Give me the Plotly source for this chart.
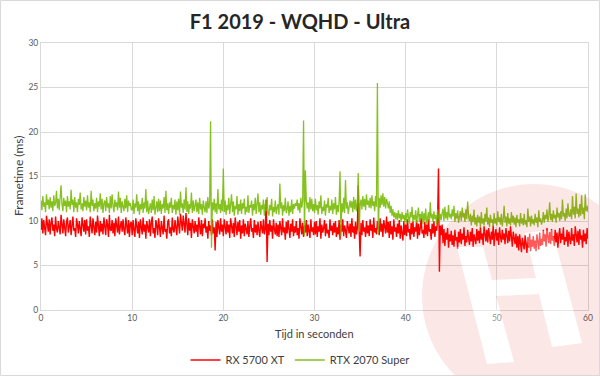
import math
import plotly.graph_objects as go

# ---------------- data ----------------
title_text = "F1 2019 - WQHD - Ultra"
x_title = "Tijd in seconden"
y_title = "Frametime (ms)"
series_names = ["RX 5700 XT", "RTX 2070 Super"]
x_ticks = [0, 10, 20, 30, 40, 50, 60]
y_ticks = [0, 5, 10, 15, 20, 25, 30]
sample_step_s = 0.1   # one row below = one second

rx5700xt_ms = [
    9.0, 10.3, 8.6, 10.1, 9.2, 8.4, 10.6, 9.5, 8.8, 10.2,
    8.5, 9.8, 10.4, 8.9, 9.6, 8.3, 10.5, 9.1, 8.7, 10.0,
    9.3, 8.5, 10.7, 9.0, 8.6, 10.2, 9.4, 8.3, 9.9, 10.4,
    8.7, 9.5, 10.1, 8.4, 9.7, 10.5, 8.9, 9.2, 8.2, 10.3,
    9.6, 8.6, 10.0, 9.1, 8.3, 10.4, 9.3, 8.8, 10.1, 8.5,
    10.2, 8.9, 9.4, 8.2, 10.5, 9.0, 8.6, 10.3, 9.5, 8.4,
    9.9, 8.7, 10.6, 9.2, 8.3, 10.0, 8.8, 9.7, 8.5, 10.4,
    9.1, 8.4, 10.2, 9.6, 8.2, 10.7, 9.0, 8.9, 10.1, 8.6,
    9.8, 8.3, 10.3, 9.3, 8.7, 10.5, 8.5, 9.4, 10.0, 8.8,
    10.2, 9.0, 8.4, 10.4, 9.5, 8.6, 10.1, 8.2, 9.7, 9.9,
    8.4, 10.1, 9.0, 8.2, 10.3, 9.4, 8.6, 9.9, 8.1, 10.2,
    9.1, 8.5, 10.4, 8.8, 9.6, 8.0, 10.0, 9.3, 8.7, 10.2,
    8.3, 9.8, 10.5, 8.6, 9.2, 8.1, 10.1, 9.5, 8.4, 10.3,
    9.0, 8.2, 10.0, 9.4, 8.5, 10.6, 8.8, 9.1, 8.0, 9.9,
    10.2, 8.6, 9.3, 8.3, 10.4, 9.0, 8.7, 10.1, 9.4, 8.4,
    10.5, 9.1, 8.6, 10.8, 9.4, 8.9, 10.6, 9.7, 8.7, 10.9,
    9.3, 8.4, 10.3, 8.9, 9.8, 8.1, 10.2, 9.0, 8.6, 10.0,
    8.8, 9.6, 8.2, 10.4, 9.1, 8.5, 10.1, 8.3, 9.7, 9.2,
    10.3, 8.7, 9.4, 8.0, 10.0, 8.9, 9.5, 8.4, 10.2, 8.6,
    9.3, 6.7, 9.9, 8.2, 10.1, 9.0, 8.5, 10.3, 8.8, 9.6,
    8.3, 10.2, 9.0, 8.5, 10.0, 8.7, 9.6, 8.1, 10.3, 9.2,
    8.6, 9.8, 8.2, 10.4, 9.1, 8.4, 9.9, 8.8, 10.1, 8.0,
    9.5, 8.6, 10.2, 8.3, 9.7, 9.0, 8.5, 10.0, 8.2, 9.4,
    10.3, 8.8, 9.2, 8.1, 10.1, 8.7, 9.6, 8.4, 9.9, 8.9,
    8.2, 10.0, 9.3, 8.6, 10.2, 8.5, 9.1, 12.4, 5.4, 9.7,
    8.4, 10.1, 8.8, 9.5, 8.0, 10.2, 9.1, 8.5, 9.8, 8.3,
    9.6, 8.2, 10.0, 8.9, 8.4, 10.3, 8.7, 9.3, 7.9, 9.9,
    8.6, 10.1, 9.0, 8.1, 9.7, 8.8, 10.2, 8.3, 9.4, 8.7,
    10.0, 8.4, 9.2, 8.0, 10.3, 8.9, 8.5, 9.8, 8.2, 9.5,
    8.7, 10.1, 8.3, 9.6, 9.0, 8.1, 10.2, 8.8, 9.3, 8.4,
    9.9, 8.5, 10.0, 8.2, 9.4, 8.8, 10.3, 8.0, 9.6, 8.7,
    9.2, 10.1, 8.3, 9.7, 8.6, 9.0, 8.1, 10.2, 8.9, 9.5,
    8.4, 9.8, 8.7, 10.0, 8.2, 9.3, 8.5, 10.1, 7.9, 9.6,
    8.8, 10.2, 8.3, 9.5, 8.9, 8.1, 10.0, 9.1, 8.6, 9.7,
    8.2, 10.3, 8.7, 9.4, 8.0, 9.9, 8.5, 9.2, 14.0, 9.0,
    6.0, 9.8, 8.4, 10.1, 8.8, 9.3, 8.2, 10.0, 8.6, 9.5,
    8.3, 10.2, 8.9, 9.6, 8.1, 10.4, 8.7, 9.2, 8.5, 10.0,
    9.4, 8.4, 10.3, 8.8, 9.7, 8.2, 10.1, 9.0, 8.6, 10.5,
    8.7, 9.9, 8.1, 10.0, 8.5, 9.4, 7.9, 10.2, 8.8, 9.3,
    8.2, 9.7, 8.6, 10.1, 8.0, 9.5, 8.9, 7.8, 10.0, 8.4,
    9.6, 8.3, 10.2, 8.7, 9.1, 7.9, 9.8, 8.5, 10.0, 8.2,
    9.3, 8.8, 10.1, 8.0, 9.7, 8.4, 9.2, 10.3, 8.6, 9.0,
    8.1, 9.9, 8.5, 9.6, 8.3, 10.2, 8.8, 9.1, 7.9, 9.7,
    8.6, 10.0, 8.2, 9.4, 8.9, 10.1, 15.9, 4.3, 9.5, 8.4,
    9.6, 7.5, 9.1, 7.2, 8.7, 7.9, 9.2, 7.0, 8.5, 7.7,
    8.9, 7.3, 8.4, 7.1, 9.0, 7.8, 8.2, 6.9, 8.8, 7.6,
    9.1, 7.4, 8.6, 7.9, 9.3, 7.2, 8.3, 7.6, 9.0, 8.0,
    7.3, 8.8, 7.7, 9.2, 7.1, 8.5, 8.0, 7.4, 9.1, 7.8,
    8.9, 7.5, 9.3, 7.9, 8.6, 7.3, 9.4, 8.1, 7.7, 9.0,
    7.6, 9.2, 8.3, 7.4, 8.8, 7.9, 9.5, 7.2, 8.5, 9.1,
    7.8, 8.7, 7.3, 9.3, 8.2, 7.6, 9.0, 7.9, 8.6, 7.4,
    9.2, 8.0, 7.5, 8.9, 7.7, 9.4, 8.3, 7.1, 8.8, 8.1,
    7.4, 8.6, 7.0, 8.3, 6.7, 8.5, 7.2, 6.5, 8.1, 7.6,
    6.8, 8.4, 7.3, 6.4, 8.2, 7.0, 8.6, 6.6, 7.9, 7.1,
    8.3, 6.9, 7.8, 6.6, 8.5, 7.4, 6.8, 8.7, 7.2, 8.0,
    7.3, 9.0, 7.7, 8.5, 7.1, 9.2, 8.0, 7.5, 8.8, 7.4,
    9.1, 7.8, 8.3, 7.2, 9.0, 7.6, 8.7, 7.0, 8.4, 9.2,
    7.5, 8.6, 7.9, 9.3, 7.3, 8.2, 7.7, 9.0, 7.1, 8.8,
    8.0, 7.4, 9.2, 7.8, 8.5, 7.2, 9.4, 8.1, 7.6, 8.9,
    7.3, 9.1, 7.9, 8.4, 7.0, 9.0, 7.7, 8.6, 7.4, 9.2,
    8.0,
]

rtx2070s_ms = [
    12.3, 11.2, 12.8, 11.6, 12.1, 11.0, 13.0, 11.8, 12.4, 11.3,
    12.7, 11.5, 12.2, 11.1, 12.9, 11.7, 12.0, 13.4, 11.4, 12.5,
    11.2, 12.6, 14.0, 11.9, 11.1, 12.6, 11.7, 12.3, 11.0, 12.8,
    11.6, 12.2, 11.3, 13.5, 11.8, 12.4, 11.0, 12.7, 11.5, 12.1,
    11.0, 12.5, 11.8, 13.2, 11.3, 12.0, 11.1, 12.7, 11.6, 12.3,
    11.2, 12.9, 11.5, 12.1, 11.0, 13.4, 11.7, 12.4, 11.1, 12.0,
    11.4, 12.6, 11.0, 12.2, 11.6, 13.1, 11.3, 12.5, 10.9, 12.0,
    12.3, 11.1, 12.7, 11.5, 12.0, 10.9, 12.8, 11.4, 13.0, 11.7,
    11.0, 12.4, 11.6, 12.1, 11.2, 13.3, 11.5, 12.6, 10.9, 12.2,
    11.8, 11.1, 12.5, 11.4, 12.9, 11.0, 12.3, 11.7, 12.0, 11.3,
    11.2, 12.4, 10.8, 12.0, 11.5, 13.0, 11.1, 12.2, 10.7, 11.9,
    11.3, 12.6, 10.9, 12.1, 11.4, 13.6, 11.0, 12.3, 10.8, 11.8,
    12.0, 10.9, 12.4, 11.2, 12.8, 10.7, 11.7, 12.2, 11.0, 12.5,
    11.1, 12.3, 10.8, 11.9, 11.4, 12.7, 10.9, 13.4, 11.2, 12.0,
    10.8, 12.1, 11.5, 12.6, 10.9, 11.8, 11.3, 12.4, 10.7, 12.2,
    11.2, 12.5, 10.7, 13.3, 11.5, 12.0, 10.9, 12.4, 11.3, 13.8,
    11.0, 12.2, 10.8, 11.9, 11.4, 13.2, 10.9, 12.3, 11.1, 11.7,
    12.4, 11.0, 12.1, 10.8, 12.6, 11.3, 11.9, 10.7, 12.3, 11.5,
    11.0, 12.2, 10.9, 12.7, 11.4, 11.8, 21.2, 7.0, 12.1, 11.2,
    12.5, 11.0, 12.0, 10.8, 13.6, 11.3, 11.9, 10.9, 12.4, 11.1,
    15.9, 11.0, 12.3, 10.7, 11.8, 11.2, 12.6, 10.8, 11.6, 13.0,
    11.0, 12.2, 10.6, 11.7, 11.3, 12.8, 10.7, 11.9, 11.1, 12.4,
    10.8, 12.0, 11.4, 12.5, 10.7, 11.6, 11.0, 12.9, 10.9, 11.8,
    11.5, 12.3, 10.6, 11.9, 11.2, 12.6, 10.8, 11.7, 13.1, 11.0,
    12.1, 10.7, 11.8, 11.3, 12.4, 10.6, 11.9, 11.1, 12.7, 10.9,
    10.6, 11.8, 11.2, 12.5, 10.5, 11.6, 11.0, 12.3, 10.8, 11.5,
    11.9, 10.7, 14.2, 11.4, 12.1, 10.6, 11.8, 11.1, 12.6, 10.9,
    11.3, 12.2, 10.6, 11.7, 11.0, 12.4, 10.8, 11.9, 11.4, 12.0,
    11.7, 12.4, 11.2, 12.0, 10.9, 12.6, 11.5, 12.2, 21.3, 8.4,
    15.7, 12.3, 11.4, 12.1, 11.0, 12.7, 11.3, 12.5, 11.1, 11.9,
    10.9, 12.5, 11.2, 11.8, 10.7, 12.2, 11.4, 12.9, 10.8, 11.6,
    11.1, 12.3, 10.6, 11.9, 11.5, 12.6, 10.9, 11.7, 11.2, 12.4,
    10.8, 12.0, 11.3, 12.7, 10.7, 11.8, 11.0, 12.2, 15.6, 8.3,
    12.0, 11.0, 12.6, 10.9, 14.6, 11.4, 12.1, 10.8, 11.7, 12.3,
    11.5, 12.2, 11.0, 12.7, 11.3, 12.4, 11.1, 12.0, 15.4, 8.8,
    11.8, 12.4, 11.3, 12.8, 11.6, 12.5, 11.2, 13.0, 11.8, 12.3,
    11.5, 12.6, 11.4, 12.9, 11.7, 12.2, 11.1, 12.8, 11.6, 25.5,
    8.6, 12.6, 11.5, 12.9, 11.8, 13.1, 11.6, 12.7, 11.4, 12.5,
    12.0, 11.4, 12.2, 10.9, 11.7, 10.6, 11.3, 10.4, 11.0, 10.2,
    10.9, 10.1, 11.2, 10.3, 10.8, 9.9, 11.0, 10.2, 10.7, 9.9,
    10.9, 9.8, 11.3, 10.2, 9.7, 11.0, 10.4, 11.6, 9.9, 10.7,
    10.1, 11.2, 9.8, 10.6, 11.5, 9.9, 10.8, 10.2, 11.1, 9.6,
    10.9, 10.0, 11.4, 9.7, 10.5, 11.0, 9.8, 12.1, 10.3, 10.8,
    9.9, 11.1, 10.2, 10.7, 9.6, 11.3, 10.4, 9.9, 10.8, 10.1,
    10.9, 11.4, 10.0, 11.6, 10.3, 11.0, 10.1, 11.8, 10.4, 10.8,
    10.2, 11.3, 10.5, 11.7, 9.9, 10.9, 10.3, 11.2, 9.8, 10.6,
    11.1, 10.0, 11.5, 10.4, 10.9, 9.9, 11.3, 10.2, 12.2, 10.5,
    10.0, 10.8, 9.5, 10.6, 9.9, 11.3, 9.6, 10.4, 9.4, 10.7,
    9.8, 10.5, 9.3, 11.0, 9.7, 10.3, 9.5, 10.8, 9.9, 11.5,
    9.6, 10.4, 9.3, 10.7, 9.8, 10.2, 9.4, 10.9, 9.7, 10.3,
    9.5, 11.1, 9.9, 10.4, 9.6, 10.8, 9.4, 10.2, 11.7, 9.8,
    10.5, 9.4, 10.9, 9.7, 10.3, 9.5, 11.0, 9.8, 10.6, 9.6,
    10.4, 9.3, 10.7, 9.8, 10.2, 9.4, 10.9, 9.7, 10.3, 9.5,
    10.8, 9.6, 10.1, 9.3, 11.4, 9.9, 10.5, 9.4, 10.6, 9.7,
    10.2, 9.5, 10.8, 9.8, 10.4, 9.3, 11.2, 9.9, 10.3, 9.6,
    10.0, 11.0, 9.8, 10.7, 10.2, 11.3, 9.9, 10.6, 12.1, 10.1,
    10.8, 9.9, 11.2, 10.3, 10.7, 9.8, 11.5, 10.4, 10.9, 10.0,
    11.1, 10.2, 12.4, 10.5, 10.9, 10.0, 11.4, 10.3, 12.0, 10.6,
    10.5, 11.3, 10.2, 12.8, 10.7, 11.6, 10.3, 13.1, 10.8, 11.4,
    10.4, 11.9, 10.6, 12.9, 10.8, 11.5, 10.2, 13.0, 11.1, 11.7,
    11.0,
]

time_s = [round(i * sample_step_s, 2) for i in range(len(rx5700xt_ms))]

# ---------------- styling ----------------
W, H = 600, 376
PL, PR, PT, PB = 41, 588, 43, 310          # plot area in pixels
FONT = "Lato, 'Open Sans', sans-serif"
GRID = "#d9d9d9"
TICK_COL = "#595959"


def px(x):
    return (x - PL) / (PR - PL)


def py(y):
    return (PB - y) / (PB - PT)


def poly(points):
    return "M " + " L ".join(f"{px(a):.4f},{py(b):.4f}" for a, b in points) + " Z"


# watermark: pink disc with an "H"-like F1 logo cut out
cx, cy, r = 534, 296, 112
circle_pts = [(cx + r * math.cos(2 * math.pi * k / 96), cy + r * math.sin(2 * math.pi * k / 96)) for k in range(96)]
logo_pts = [(457, 247), (483, 247), (492, 280), (536, 278), (525, 233), (552, 230),
            (582, 343), (552, 347), (539, 294), (496, 296), (514, 362), (487, 364)]

fig = go.Figure()
fig.add_trace(go.Scatter(x=time_s, y=rx5700xt_ms, name=series_names[0], mode="lines",
                         line=dict(color="#ff0000", width=1.4)))
fig.add_trace(go.Scatter(x=time_s, y=rtx2070s_ms, name=series_names[1], mode="lines",
                         line=dict(color="rgba(116,184,0,0.88)", width=1.3)))

shapes = [
    dict(type="path", xref="paper", yref="paper", layer="above",
         path=poly(circle_pts) + " " + poly(logo_pts), fillrule="evenodd",
         fillcolor="rgba(225,40,40,0.11)", line=dict(width=0)),
    dict(type="path", xref="paper", yref="paper", layer="above",
         path=poly(logo_pts), fillcolor="rgba(255,255,255,0.35)", line=dict(width=0)),
    dict(type="rect", xref="paper", yref="paper", layer="above",
         x0=px(0.5), x1=px(W - 0.5), y0=py(H - 0.5), y1=py(0.5),
         line=dict(color="#d9d9d9", width=1), fillcolor="rgba(0,0,0,0)"),
]

fig.update_layout(
    width=W, height=H,
    margin=dict(l=PL, r=W - PR, t=PT, b=H - PB),
    paper_bgcolor="white", plot_bgcolor="white",
    font=dict(family=FONT, color=TICK_COL),
    title=dict(text=f"<b>{title_text}</b>", x=0.5, xref="container", xanchor="center",
               y=1 - 22 / H, yref="container", yanchor="middle",
               font=dict(family=FONT, size=20, color="#262626")),
    showlegend=True,
    legend=dict(orientation="h", xref="container", x=0.5, xanchor="center",
                yref="container", y=16 / H, yanchor="middle",
                font=dict(family=FONT, size=11, color="#404040"), itemwidth=30),
    shapes=shapes,
    annotations=[
        dict(text=x_title, xref="paper", yref="paper", x=0.5, y=py(333),
             xanchor="center", yanchor="middle", showarrow=False,
             font=dict(family=FONT, size=11, color="#404040")),
        dict(text=y_title, xref="paper", yref="paper", x=px(18), y=py(176),
             xanchor="center", yanchor="middle", showarrow=False, textangle=-90,
             font=dict(family=FONT, size=12, color="#404040")),
    ],
    hovermode=False,
)
fig.update_xaxes(range=[0, 60], tickvals=x_ticks, showgrid=True, gridcolor=GRID, gridwidth=1,
                 zeroline=False, showline=True, linecolor=GRID, mirror=True, automargin=False,
                 tickfont=dict(family=FONT, size=8.5, color=TICK_COL), ticks="")
fig.update_yaxes(range=[0, 30], tickvals=y_ticks, showgrid=True, gridcolor=GRID, gridwidth=1,
                 zeroline=False, showline=True, linecolor=GRID, mirror=True, automargin=False,
                 tickfont=dict(family=FONT, size=8.5, color=TICK_COL), ticks="")

fig.write_html("out.html", config={"displayModeBar": False},
               post_script="document.body.style.margin='0px';")
